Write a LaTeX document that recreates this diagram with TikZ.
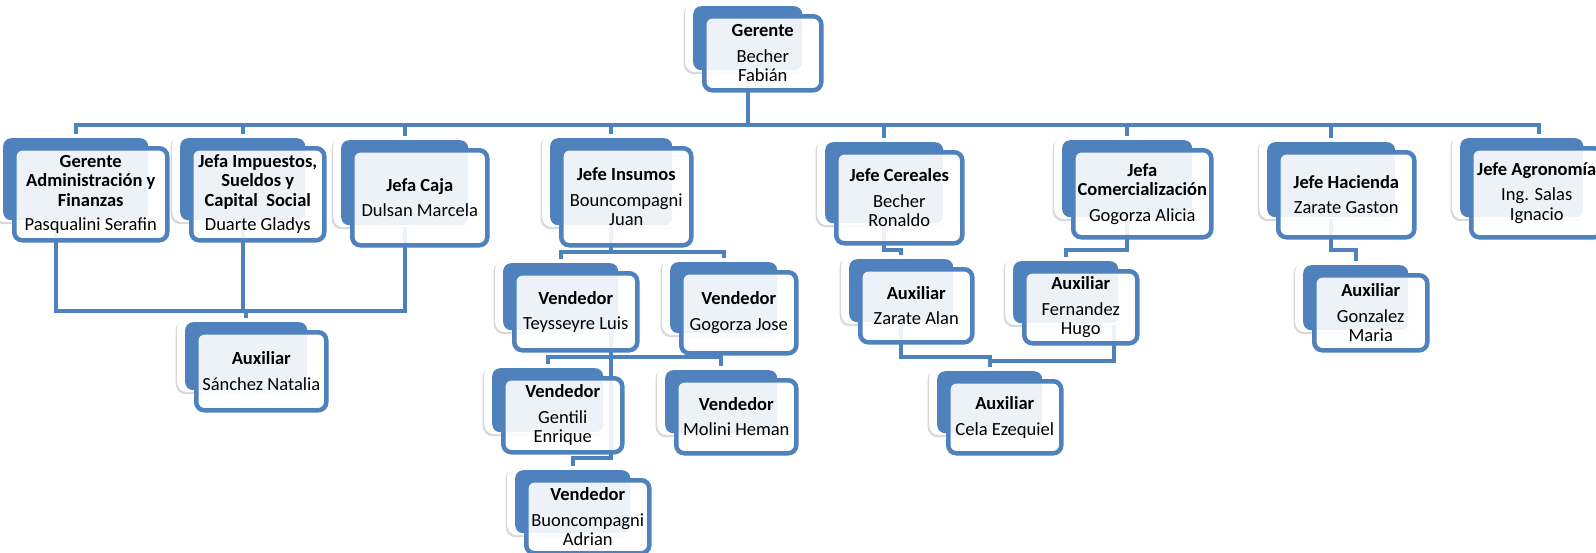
\documentclass[tikz,border=0pt]{standalone}
\usepackage{fontspec}
\setmainfont{Carlito}
\usetikzlibrary{calc, shadows}
\definecolor{azul}{HTML}{4F81BD}
\pgfdeclarelayer{fondo}
\pgfsetlayers{fondo,main}
% nombre, x, y (esquina del bloque azul), ancho, alto, texto
\newcommand{\caja}[6]{%
  \node[sombra, minimum width=(#4+13)*1pt, minimum height=(#5+6)*1pt] at (#2-8,#3-4) {};
  \node[relleno, minimum width=#4*1pt, minimum height=#5*1pt] (#1-b) at (#2,#3) {};
  \node[frente, minimum width=(#4+8)*1pt, minimum height=(#5+10)*1pt] (#1) at (#2+9,#3+8) {#6};
}

\begin{document}
\begin{tikzpicture}[x=1pt, y=-1pt,
        sombra/.style={anchor=north west, fill=white, rounded corners=10pt, inner sep=0pt,
                       drop shadow={shadow xshift=-1.5pt, shadow yshift=-2pt, opacity=0.25, fill=black!60}},
        relleno/.style={anchor=north west, fill=azul, rounded corners=8pt, inner sep=0pt},
        frente/.style={anchor=north west, draw=azul, line width=4.5pt, fill=white,
                       fill opacity=0.9, text opacity=1, rounded corners=8pt, inner sep=0pt,
                       align=center, font=\fontsize{18.5}{19.5}\selectfont},
        conector/.style={draw=azul, line width=4pt, line cap=rect}
      ]
        \useasboundingbox (0,0) rectangle (1596,552);

        \caja{ger}{693}{6}{109}{64}{\textbf{Gerente}\\[6pt]Becher\\Fabián}
        \caja{adm}{3}{138}{145}{82}{\textbf{Gerente}\\\textbf{Administración y}\\\textbf{Finanzas}\\[5pt]Pasqualini Serafin}
        \caja{imp}{180}{138}{125}{82}{\textbf{Jefa Impuestos,}\\\textbf{Sueldos y}\\\textbf{Capital\ \ Social}\\[5pt]Duarte Gladys}
        \caja{caja}{341}{140}{127}{85}{\textbf{Jefa Caja}\\[6pt]Dulsan Marcela}
        \caja{ins}{550}{138}{122}{87}{\textbf{Jefe Insumos}\\[6pt]Bouncompagni\\Juan}
        \caja{cer}{825}{142}{118}{81}{\textbf{Jefe Cereales}\\[6pt]Becher\\Ronaldo}
        \caja{com}{1062}{140}{130}{77}{\textbf{Jefa}\\\textbf{Comercialización}\\[6pt]Gogorza Alicia}
        \caja{hac}{1267}{142}{128}{75}{\textbf{Jefe Hacienda}\\[6pt]Zarate Gaston}
        \caja{agr}{1460}{138}{123}{79}{\textbf{Jefe Agronomía}\\[6pt]Ing. Salas\\Ignacio}

        \caja{tey}{503}{263}{115}{67}{\textbf{Vendedor}\\[6pt]Teysseyre Luis}
        \caja{gog}{670}{262}{107}{71}{\textbf{Vendedor}\\[6pt]Gogorza Jose}
        \caja{gen}{492}{368}{111}{64}{\textbf{Vendedor}\\[6pt]Gentili\\Enrique}
        \caja{mol}{665}{370}{112}{63}{\textbf{Vendedor}\\[6pt]Molini Heman}
        \caja{adr}{515}{470}{115}{63}{\textbf{Vendedor}\\[6pt]Buoncompagni\\Adrian}
        \caja{zar}{849}{259}{104}{63}{\textbf{Auxiliar}\\[6pt]Zarate Alan}
        \caja{fer}{1013}{261}{105}{62}{\textbf{Auxiliar}\\[6pt]Fernandez\\Hugo}
        \caja{cel}{937}{371}{105}{62}{\textbf{Auxiliar}\\[6pt]Cela Ezequiel}
        \caja{gon}{1303}{265}{105}{65}{\textbf{Auxiliar}\\[6pt]Gonzalez\\Maria}
        \caja{san}{185}{322}{122}{68}{\textbf{Auxiliar}\\[6pt]Sánchez Natalia}

        \coordinate (bus) at (0,125);
        \coordinate (n2) at (0,250);
        \coordinate (n2i) at (0,252);
        \coordinate (n3i) at (0,311);
        \coordinate (n3) at (0,357);
        \coordinate (n3b) at (0,361);
        \coordinate (n4) at (0,458);
        \coordinate (eje) at (ins-b.center |- tey-b.center);
        \coordinate (agr-c) at ($(agr-b.center)+(17,0)$);

        \begin{pgfonlayer}{fondo}
          \fill[white] (0,0) rectangle (1596,552);
          \draw[conector] (ger-b.center) -- (ger-b.center |- bus);
          \draw[conector] (adm-b.center |- bus) -- (agr-c |- bus) -- (agr-c);
          \foreach \n in {adm,imp,caja,ins,cer,com,hac}
            \draw[conector] (\n-b.center |- bus) -- (\n-b.center);

          \draw[conector] ($(adm-b.center)+(-20,0)$) |- (san-b.center |- n3i) -- (san-b.center);
          \draw[conector] (caja-b.center) |- (san-b.center |- n3i);
          \draw[conector] (imp-b.center) -- (imp-b.center |- n3i);

          \draw[conector] (ins-b.center) -- (ins-b.center |- n2i);
          \draw[conector] (tey-b.center |- n2i) -- (gog-b.center |- n2i);
          \draw[conector] (tey-b.center |- n2i) -- (tey-b.center);
          \draw[conector] (gog-b.center |- n2i) -- (gog-b.center);

          \draw[conector] (eje) -- (eje |- n4) -| (adr-b.center);
          \draw[conector] (gen-b.center |- n3) -- (mol-b.center |- n3);
          \draw[conector] (gen-b.center |- n3) -- (gen-b.center);
          \draw[conector] (mol-b.center |- n3) -- (mol-b.center);

          \draw[conector] (cer-b.center) |- (zar-b.center |- n2) -- (zar-b.center);
          \draw[conector] (com-b.center) |- (fer-b.center |- n2) -- (fer-b.center);
          \draw[conector] (hac-b.center) |- (gon-b.center |- n2) -- (gon-b.center);

          \draw[conector] (zar-b.center) |- (cel-b.center |- n3) -- (cel-b.center);
          \draw[conector] ($(fer-b.center)+(48,0)$) |- (cel-b.center |- n3b);
        \end{pgfonlayer}
      \end{tikzpicture}
\end{document}
